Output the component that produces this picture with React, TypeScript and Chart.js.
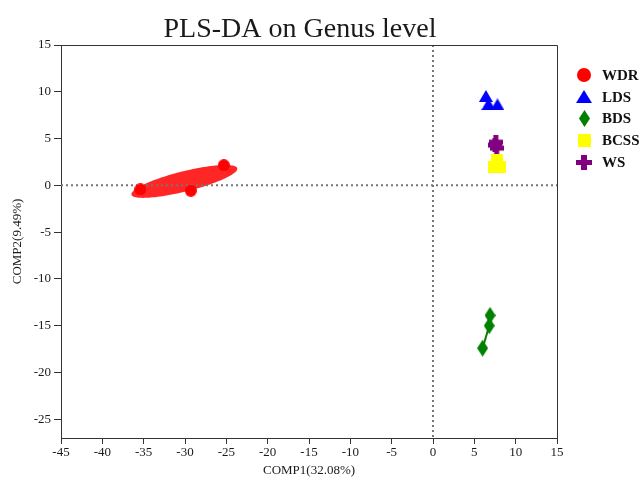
import React, { useEffect, useRef } from 'react';
import { Chart, registerables } from 'chart.js';

Chart.register(...registerables);

// ---------- data ----------
const chartTitle = 'PLS-DA on Genus level';
const xAxisTitle = 'COMP1(32.08%)';
const yAxisTitle = 'COMP2(9.49%)';
const xRange = [-45, 15];
const yRange = [-27, 15];
const tickStep = 5;

const groupNames = ['WDR', 'LDS', 'BDS', 'BCSS', 'WS'];
const groupColors = ['#FF0000', '#0000FF', '#008000', '#FFFF00', '#800080'];

const wdrX = [-35.4, -29.3, -25.3];
const wdrY = [-0.43, -0.57, 2.15];
const ldsX = [6.4, 7.8, 6.7];
const ldsY = [9.55, 8.65, 8.7];
const bdsX = [6.9, 6.8, 6.0];
const bdsY = [-13.9, -15.0, -17.4];
const bcssX = [7.74, 7.38, 8.1];
const bcssY = [2.69, 1.94, 1.94];
const wsX = [7.6, 7.7, 7.5];
const wsY = [4.62, 3.98, 4.3];

// WDR confidence ellipse: centre, major and minor semi-axis vectors (data units)
const ellipseCenter = [-30.08, 0.42];
const ellipseMajor = [6.4, 1.41];
const ellipseMinor = [0.3, -1.05];

const SERIF = '"Liberation Serif", "Times New Roman", serif';

function pts(xs: number[], ys: number[]) {
  return xs.map((x, i) => ({ x, y: ys[i] }));
}

function makeMarker(kind: string, w: number, h: number, color: string) {
  const c = document.createElement('canvas');
  c.width = w;
  c.height = h;
  const ctx = c.getContext('2d')!;
  ctx.fillStyle = color;
  ctx.beginPath();
  if (kind === 'circle') {
    ctx.arc(w / 2, h / 2, Math.min(w, h) / 2, 0, Math.PI * 2);
  } else if (kind === 'triangle') {
    ctx.moveTo(w / 2, 0);
    ctx.lineTo(w, h);
    ctx.lineTo(0, h);
    ctx.closePath();
  } else if (kind === 'diamond') {
    ctx.moveTo(w / 2, 0);
    ctx.lineTo(w, h / 2);
    ctx.lineTo(w / 2, h);
    ctx.lineTo(0, h / 2);
    ctx.closePath();
  } else if (kind === 'square') {
    ctx.rect(0, 0, w, h);
  } else if (kind === 'cross') {
    const tw = Math.round(w * 0.36);
    const th = Math.round(h * 0.36);
    ctx.rect((w - tw) / 2, 0, tw, h);
    ctx.rect(0, (h - th) / 2, w, th);
  }
  ctx.fill();
  return c;
}

export default function App() {
  const ref = useRef<HTMLCanvasElement>(null);

  useEffect(() => {
    document.body.style.margin = '0';
    const canvas = ref.current!;

    const kinds = ['circle', 'triangle', 'diamond', 'square', 'cross'];
    const plotSizes = [[12, 12], [14, 12], [11, 17], [12, 12], [14, 14]];
    const legendSizes = [[14, 14], [16, 13], [11, 17], [13, 13], [16, 15]];
    const plotMarkers = kinds.map((k, i) => makeMarker(k, plotSizes[i][0], plotSizes[i][1], groupColors[i]));
    const legendMarkers = kinds.map((k, i) => makeMarker(k, legendSizes[i][0], legendSizes[i][1], groupColors[i]));

    const ellipsePts: { x: number; y: number }[] = [];
    const N = 120;
    for (let i = 0; i <= N; i++) {
      const t = (i / N) * Math.PI * 2;
      ellipsePts.push({
        x: ellipseCenter[0] + ellipseMajor[0] * Math.cos(t) + ellipseMinor[0] * Math.sin(t),
        y: ellipseCenter[1] + ellipseMajor[1] * Math.cos(t) + ellipseMinor[1] * Math.sin(t),
      });
    }

    const groupData = [pts(wdrX, wdrY), pts(ldsX, ldsY), pts(bdsX, bdsY), pts(bcssX, bcssY), pts(wsX, wsY)];

    const groupSets: any[] = groupNames.map((name, i) => ({
      label: name,
      data: groupData[i],
      pointStyle: plotMarkers[i],
      pointRadius: 6,
      pointHoverRadius: 6,
      showLine: name === 'BDS',
      borderColor: groupColors[i],
      borderWidth: 2,
      backgroundColor: groupColors[i],
      order: 1,
    }));

    const ellipseSet: any = {
      type: 'line',
      label: 'WDR ellipse',
      data: ellipsePts,
      fill: 'shape',
      backgroundColor: 'rgba(255,0,0,0.85)',
      borderColor: 'rgba(255,0,0,0.85)',
      borderWidth: 0,
      pointRadius: 0,
      tension: 0,
      order: 10,
    };

    const decorPlugin = {
      id: 'decor',
      afterDatasetDraw(chart: any, args: any) {
        if (args.index !== groupSets.length) return;
        const { ctx, chartArea: a, scales } = chart;
        const x0 = scales.x.getPixelForValue(0);
        const y0 = scales.y.getPixelForValue(0);
        ctx.save();
        ctx.strokeStyle = '#767676';
        ctx.lineWidth = 2;
        ctx.setLineDash([2, 3]);
        ctx.beginPath();
        ctx.moveTo(a.left, y0);
        ctx.lineTo(a.right, y0);
        ctx.moveTo(x0, a.top);
        ctx.lineTo(x0, a.bottom);
        ctx.stroke();
        ctx.restore();
      },
      afterDraw(chart: any) {
        const { ctx, chartArea: a } = chart;
        ctx.save();
        // frame
        ctx.strokeStyle = '#333';
        ctx.lineWidth = 1;
        ctx.beginPath();
        ctx.moveTo(a.left, a.top + 0.5);
        ctx.lineTo(a.right + 0.5, a.top + 0.5);
        ctx.lineTo(a.right + 0.5, a.bottom);
        ctx.stroke();
        // title
        ctx.fillStyle = '#1a1a1a';
        ctx.font = '28px ' + SERIF;
        ctx.textAlign = 'center';
        ctx.textBaseline = 'alphabetic';
        ctx.fillText(chartTitle, (a.left + a.right) / 2 - 9, 37);
        // legend
        const lx = 584;
        const ly0 = 75;
        const lstep = 21.8;
        ctx.font = 'bold 15px ' + SERIF;
        ctx.textAlign = 'left';
        ctx.textBaseline = 'middle';
        groupNames.forEach((name, i) => {
          const y = ly0 + i * lstep;
          const m = legendMarkers[i];
          ctx.drawImage(m, Math.round(lx - m.width / 2), Math.round(y - m.height / 2));
          ctx.fillStyle = '#111';
          ctx.fillText(name, 602, y + 1);
        });
        ctx.restore();
      },
    };

    const tickFont = { family: SERIF, size: 13 };

    const chart = new Chart(canvas, {
      type: 'scatter',
      data: { datasets: [...groupSets, ellipseSet] },
      options: {
        animation: false,
        responsive: false,
        devicePixelRatio: 1,
        layout: { padding: { top: 45, right: 86, left: 0, bottom: 0 } },
        plugins: {
          legend: { display: false },
          title: { display: false },
          tooltip: { enabled: false },
        },
        scales: {
          x: {
            type: 'linear',
            min: xRange[0],
            max: xRange[1],
            ticks: { stepSize: tickStep, color: '#1a1a1a', font: tickFont, padding: 1, maxRotation: 0 },
            grid: { drawOnChartArea: false, drawTicks: true, tickLength: 6, color: '#333' },
            border: { display: true, color: '#333', width: 1 },
            title: { display: true, text: xAxisTitle, color: '#1a1a1a', font: { family: SERIF, size: 13 }, padding: { top: 0, bottom: 2 } },
            afterFit(scale: any) { scale.height = 42; },
          },
          y: {
            type: 'linear',
            min: yRange[0],
            max: yRange[1],
            ticks: { stepSize: tickStep, color: '#1a1a1a', font: tickFont, padding: 3 },
            grid: { drawOnChartArea: false, drawTicks: true, tickLength: 7, color: '#333' },
            border: { display: true, color: '#333', width: 1 },
            title: { display: true, text: yAxisTitle, color: '#1a1a1a', font: { family: SERIF, size: 13 }, padding: { top: 10, bottom: 0 } },
            afterBuildTicks(scale: any) {
              scale.ticks = scale.ticks.filter((t: any) => t.value % tickStep === 0);
            },
            afterFit(scale: any) { scale.width = 61; },
          },
        },
      } as any,
      plugins: [decorPlugin],
    });

    return () => chart.destroy();
  }, []);

  return (
    <div style={{ width: 643, height: 480 }}>
      <canvas ref={ref} width={643} height={480} style={{ display: 'block' }} />
    </div>
  );
}
